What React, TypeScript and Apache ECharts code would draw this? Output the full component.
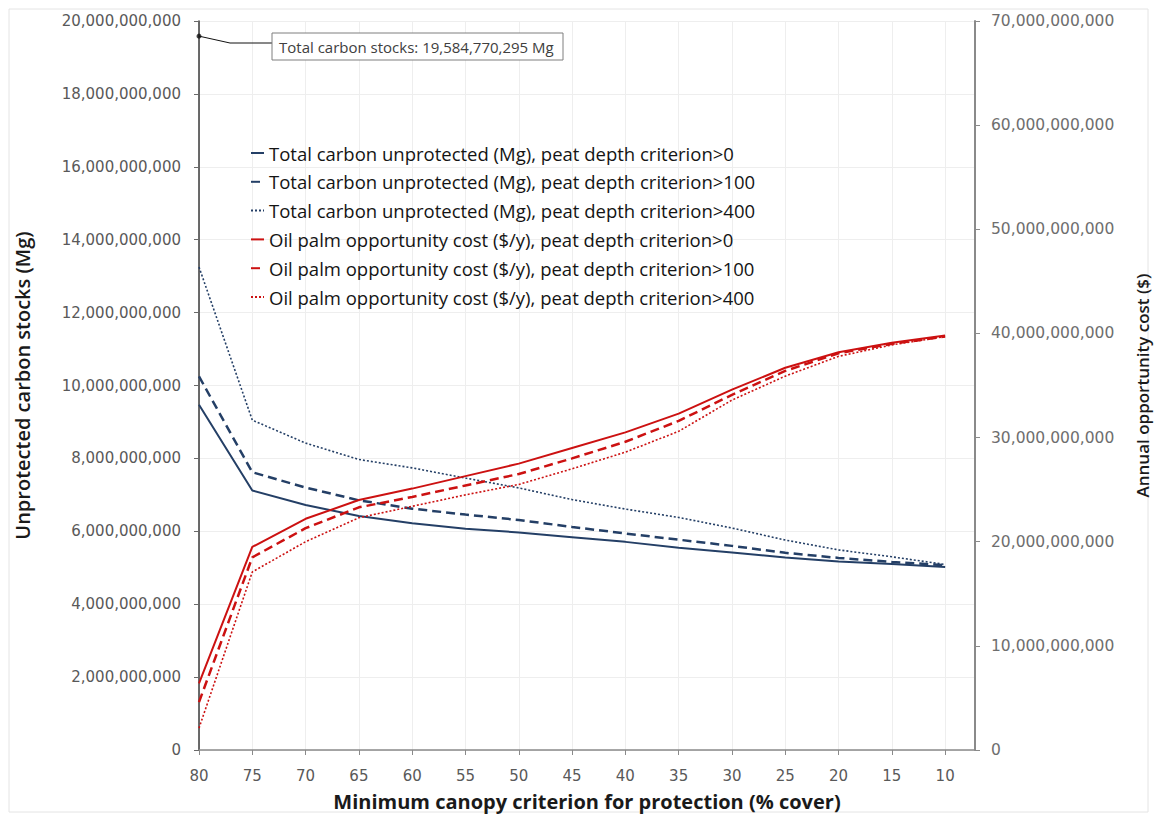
import React, { useEffect, useRef } from "react";
import * as echarts from "echarts";

// Minimum canopy criterion (% cover)
const canopy = [80, 75, 70, 65, 60, 55, 50, 45, 40, 35, 30, 25, 20, 15, 10];
const xTicks = [80, 75, 70, 65, 60, 55, 50, 45, 40, 35, 30, 25, 20, 15, 10];

// Total carbon unprotected (Mg)
const carbonPeat0 = [9.47e9, 7.12e9, 6.72e9, 6.42e9, 6.22e9, 6.07e9, 5.97e9, 5.84e9, 5.71e9, 5.55e9, 5.42e9, 5.28e9, 5.17e9, 5.1e9, 5.02e9];
const carbonPeat100 = [10.25e9, 7.62e9, 7.2e9, 6.85e9, 6.62e9, 6.46e9, 6.31e9, 6.12e9, 5.94e9, 5.77e9, 5.6e9, 5.41e9, 5.27e9, 5.16e9, 5.07e9];
const carbonPeat400 = [13.25e9, 9.05e9, 8.42e9, 7.97e9, 7.74e9, 7.46e9, 7.19e9, 6.87e9, 6.61e9, 6.38e9, 6.09e9, 5.76e9, 5.49e9, 5.3e9, 5.09e9];

// Oil palm opportunity cost ($/y)
const costPeat0 = [6.4e9, 19.5e9, 22.2e9, 24.0e9, 25.1e9, 26.3e9, 27.5e9, 29.0e9, 30.5e9, 32.3e9, 34.6e9, 36.7e9, 38.2e9, 39.1e9, 39.8e9];
const costPeat100 = [4.6e9, 18.5e9, 21.3e9, 23.3e9, 24.3e9, 25.4e9, 26.5e9, 28.0e9, 29.6e9, 31.6e9, 34.1e9, 36.4e9, 38.1e9, 39.0e9, 39.7e9];
const costPeat400 = [2.1e9, 17.1e9, 20.0e9, 22.3e9, 23.4e9, 24.5e9, 25.5e9, 27.0e9, 28.6e9, 30.6e9, 33.6e9, 35.9e9, 37.8e9, 38.9e9, 39.7e9];

const totalCarbonStocks = 19584770295;

const seriesNames = [
  "Total carbon unprotected (Mg), peat depth criterion>0",
  "Total carbon unprotected (Mg), peat depth criterion>100",
  "Total carbon unprotected (Mg), peat depth criterion>400",
  "Oil palm opportunity cost ($/y), peat depth criterion>0",
  "Oil palm opportunity cost ($/y), peat depth criterion>100",
  "Oil palm opportunity cost ($/y), peat depth criterion>400",
];

const BLUE = "#243f66";
const RED = "#cc1111";
const FONT = "'Open Sans', 'Noto Sans', sans-serif";
const TICK_FONT = "'DejaVu Sans', 'Open Sans', sans-serif";

export default function App() {
  const ref = useRef<HTMLDivElement>(null);

  useEffect(() => {
    if (!ref.current) return;
    const chart = echarts.init(ref.current, null, { renderer: "svg" });
    const fmt = (v: number) => Math.round(v).toLocaleString("en-US");

    const mk = (name: string, vals: number[], color: string, type: any, width: number, yAxisIndex: number) => ({
      name,
      type: "line",
      yAxisIndex,
      data: canopy.map((c, i) => [c, vals[i]]),
      symbol: "none",
      showSymbol: false,
      lineStyle: { color, width, type },
      itemStyle: { color },
      silent: true,
    });

    chart.setOption({
      animation: false,
      backgroundColor: "#ffffff",
      textStyle: { fontFamily: FONT },
      grid: { left: 199, right: 182, top: 21, bottom: 70, containLabel: false, outerBoundsMode: "none" },
      legend: {
        orient: "vertical",
        left: 245,
        top: 138,
        itemWidth: 13,
        itemHeight: 12,
        itemGap: 8.8,
        data: seriesNames,
        itemStyle: { color: "rgba(0,0,0,0)", borderWidth: 0, opacity: 0 },
        textStyle: { fontFamily: FONT, fontSize: 18.5, color: "#141414", lineHeight: 20 },
        selectedMode: false,
      },
      xAxis: {
        type: "value",
        inverse: true,
        min: 7.2,
        max: 80,
        name: "Minimum canopy criterion for protection (% cover)",
        nameLocation: "middle",
        nameGap: 41,
        nameTextStyle: { fontFamily: FONT, fontSize: 20, fontWeight: "bold", color: "#1a1a1a" },
        axisLine: { show: true, lineStyle: { color: "#8a8a8a", width: 1.5 } },
        axisTick: { show: true, inside: false, length: 5, customValues: xTicks, lineStyle: { color: "#8a8a8a" } },
        axisLabel: { customValues: xTicks, margin: 18, fontSize: 15, color: "#595959", fontFamily: TICK_FONT },
        splitLine: { show: true, lineStyle: { color: "#eeeeee", width: 1 } },
      },
      yAxis: [
        {
          type: "value",
          position: "left",
          min: 0,
          max: 20000000000,
          interval: 2000000000,
          name: "Unprotected carbon stocks (Mg)",
          nameLocation: "middle",
          nameRotate: 90,
          nameGap: 167,
          nameTextStyle: { fontFamily: FONT, fontSize: 20, fontWeight: 600, color: "#1a1a1a" },
          axisLine: { show: true, lineStyle: { color: "#3a3a3a", width: 1.5 } },
          axisTick: { show: true, inside: false, length: 5, lineStyle: { color: "#6a6a6a" } },
          axisLabel: { formatter: fmt, margin: 18, fontSize: 15, color: "#595959", fontFamily: TICK_FONT },
          splitLine: { show: true, lineStyle: { color: "#eeeeee", width: 1 } },
        },
        {
          type: "value",
          position: "right",
          min: 0,
          max: 70000000000,
          interval: 10000000000,
          name: "Annual opportunity cost ($)",
          nameLocation: "middle",
          nameRotate: 90,
          nameGap: 159,
          nameTextStyle: { fontFamily: FONT, fontSize: 17, fontWeight: 600, color: "#1a1a1a" },
          axisLine: { show: true, lineStyle: { color: "#8a8a8a", width: 2 } },
          axisTick: { show: true, inside: false, length: 5, lineStyle: { color: "#8a8a8a" } },
          axisLabel: { formatter: fmt, margin: 16, fontSize: 15.5, color: "#6e6e6e", fontFamily: TICK_FONT },
          splitLine: { show: false },
        },
      ],
      series: [
        mk(seriesNames[0], carbonPeat0, BLUE, "solid", 2, 0),
        mk(seriesNames[1], carbonPeat100, BLUE, [9, 5], 2.5, 0),
        mk(seriesNames[2], carbonPeat400, BLUE, [2, 2], 1.6, 0),
        mk(seriesNames[3], costPeat0, RED, "solid", 2, 1),
        mk(seriesNames[4], costPeat100, RED, [9, 5], 2.5, 1),
        mk(seriesNames[5], costPeat400, RED, [2, 2], 1.6, 1),
        {
          name: "Total carbon stocks",
          type: "scatter",
          yAxisIndex: 0,
          data: [[80, totalCarbonStocks]],
          symbolSize: 5,
          itemStyle: { color: "#111111" },
          silent: true,
          z: 5,
        },
      ],
    });

    const [px, py] = chart.convertToPixel({ xAxisIndex: 0, yAxisIndex: 0 }, [80, totalCarbonStocks]) as number[];
    chart.setOption({
      graphic: [
        {
          type: "rect",
          shape: { x: 9, y: 9, width: 1139, height: 803 },
          style: { fill: "none", stroke: "#e4e4e4", lineWidth: 1 },
          silent: true,
          z: -1,
        },
        {
          type: "polyline",
          shape: { points: [[px, py], [px + 31, 43], [272, 43]] },
          style: { stroke: "#111111", lineWidth: 1, fill: "none" },
          silent: true,
          z: 10,
        },
        {
          type: "rect",
          shape: { x: 272, y: 33, width: 291, height: 27 },
          style: { fill: "#ffffff", stroke: "#7f7f7f", lineWidth: 1 },
          silent: true,
          z: 10,
        },
        {
          type: "text",
          x: 279,
          y: 46.5,
          style: {
            text: "Total carbon stocks: " + fmt(totalCarbonStocks) + " Mg",
            fontFamily: FONT,
            fontSize: 15,
            fill: "#404040",
            verticalAlign: "middle",
          },
          silent: true,
          z: 11,
        },
      ],
    });

    return () => chart.dispose();
  }, []);

  return (
    <div
      ref={ref}
      style={{ position: "absolute", left: 0, top: 0, width: 1157, height: 820, background: "#ffffff" }}
    />
  );
}
